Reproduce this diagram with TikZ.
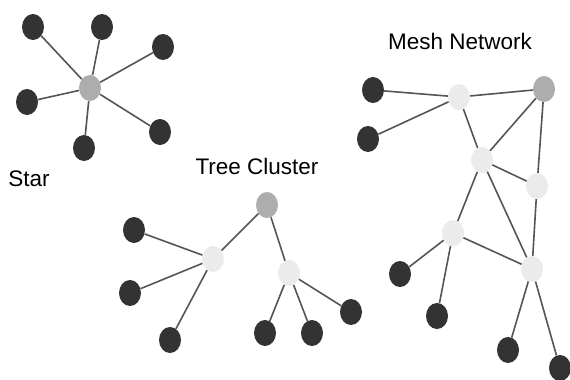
\documentclass[tikz,border=0pt]{standalone}
\usepackage{fontspec}
\setmainfont{Liberation Sans}
\usetikzlibrary{shapes.geometric}
\definecolor{darkn}{HTML}{333333}
\definecolor{grayn}{HTML}{ADADAD}
\definecolor{lightn}{HTML}{EBEBEB}
\definecolor{edgec}{HTML}{555555}
\begin{document}
\begin{tikzpicture}[x=1pt,y=-1pt,
  nd/.style={ellipse,minimum width=22pt,minimum height=26pt,inner sep=0pt,draw=none},
  dk/.style={nd,fill=darkn},
  gy/.style={nd,fill=grayn},
  lt/.style={nd,fill=lightn},
  lnk/.style={draw=edgec,line width=1.6pt},
  lbl/.style={font=\fontsize{22.5}{25}\selectfont,text=black,inner sep=0pt}]
\useasboundingbox (0,0) rectangle (570,380);
\begin{scope}
\clip (0,0) rectangle (570,380);
% Star
\node[gy] (sc) at (90,88) {};
\node[dk] (s1) at (33,27) {};
\node[dk] (s2) at (102,27) {};
\node[dk] (s3) at (163,47) {};
\node[dk] (s4) at (27,102) {};
\node[dk] (s5) at (160,132) {};
\node[dk] (s6) at (84,148) {};
\node[lbl] (starl) at (29,179) {Star};
% Tree
\node[gy] (tr) at (267,205) {};
\node[lt] (t1) at (213,259) {};
\node[lt] (t2) at (289,273) {};
\node[dk] (ta) at (134,230) {};
\node[dk] (tb) at (130,293) {};
\node[dk] (tc) at (170,340) {};
\node[dk] (td) at (265,333) {};
\node[dk] (te) at (312,333) {};
\node[dk] (tf) at (351,312) {};
\node[lbl] (treel) at (257,166) {Tree Cluster};
% Mesh
\node[dk] (m1) at (373,90) {};
\node[dk] (m2) at (368,139) {};
\node[lt] (ma) at (459,97) {};
\node[gy] (mg) at (544,89) {};
\node[lt] (mb) at (482,160) {};
\node[lt] (mc) at (537,186) {};
\node[lt] (md) at (453,233) {};
\node[lt] (me) at (532,269) {};
\node[dk] (m3) at (400,274) {};
\node[dk] (m4) at (437,316) {};
\node[dk] (m5) at (508,350) {};
\node[dk] (m6) at (560,368) {};
\node[lbl] (meshl) at (460,41) {Mesh Network};
\end{scope}
% edges
\foreach \a in {s1,s2,s3,s4,s5,s6} \draw[lnk] (sc) -- (\a);
\draw[lnk] (tr) -- (t1);
\draw[lnk] (tr) -- (t2);
\foreach \a in {ta,tb,tc} \draw[lnk] (t1) -- (\a);
\foreach \a in {td,te,tf} \draw[lnk] (t2) -- (\a);
\draw[lnk] (m1) -- (ma);
\draw[lnk] (m2) -- (ma);
\draw[lnk] (ma) -- (mg);
\draw[lnk] (ma) -- (mb);
\draw[lnk] (mg) -- (mb);
\draw[lnk] (mg) -- (mc);
\draw[lnk] (mb) -- (mc);
\draw[lnk] (mb) -- (md);
\draw[lnk] (mb) -- (me);
\draw[lnk] (mc) -- (me);
\draw[lnk] (md) -- (me);
\draw[lnk] (md) -- (m3);
\draw[lnk] (md) -- (m4);
\draw[lnk] (me) -- (m5);
\draw[lnk] (me) -- (m6);
\end{tikzpicture}
\end{document}
